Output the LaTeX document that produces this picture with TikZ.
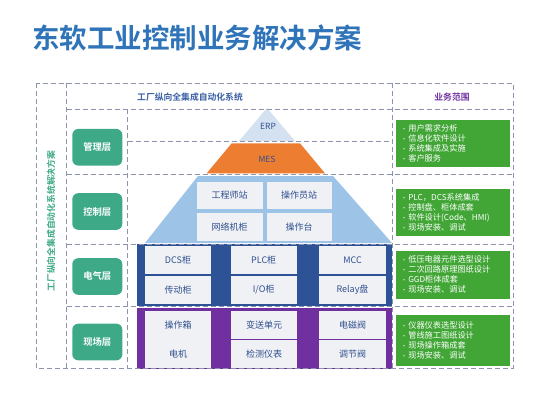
\documentclass[tikz,border=0pt]{standalone}
\usepackage{fontspec}
\setmainfont{Noto Sans CJK SC}[BoldFont={Noto Sans CJK SC Bold}]
\definecolor{titleblue}{HTML}{2F74B8}
\definecolor{headblue}{HTML}{3B5FA5}
\definecolor{bizpurple}{HTML}{7030A0}
\definecolor{dashgray}{HTML}{8D93AD}
\definecolor{layergreen}{HTML}{3DA987}
\definecolor{erpblue}{HTML}{D3E1F0}
\definecolor{mesorange}{HTML}{ED7D31}
\definecolor{ctrlblue}{HTML}{9DC3E6}
\definecolor{cellgray}{HTML}{F0F1F4}
\definecolor{celltext}{HTML}{2F4F8F}
\definecolor{elecblue}{HTML}{2E5296}
\definecolor{fieldpurple}{HTML}{7030A0}
\definecolor{bizgreen}{HTML}{41A636}
\newcommand\myfs[1]{\fontsize{#1}{#1}\selectfont}
\newcommand\blt{\makebox[7.3pt][l]{\fontsize{6pt}{6pt}\selectfont •}}
\begin{document}
\begin{tikzpicture}[x=1pt,y=-1pt,
  dline/.style={draw=dashgray, line width=0.9pt, dash pattern=on 5pt off 3pt},
  cellbox/.style={fill=cellgray, draw=none, text=celltext, font=\myfs{9pt}, inner sep=0, minimum width=66pt},
  celltxt/.style={text=celltext, font=\myfs{9pt}, inner sep=0},
  layerbox/.style={fill=layergreen, rounded corners=6pt, text=white, font=\bfseries\myfs{9.3pt}, minimum width=50pt, minimum height=36.7pt, inner sep=0},
  gbox/.style={fill=bizgreen, text=white, minimum width=114pt, text width=104pt, inner xsep=5pt, inner ysep=0, align=left, font=\fontsize{8.2pt}{10pt}\selectfont},
  pyrtxt/.style={text=celltext, font=\myfs{8.5pt}, inner sep=0}
]
\useasboundingbox (0,0) rectangle (549,412);

% title
\node[anchor=west, inner sep=0, text=titleblue, font=\bfseries\myfs{27.5pt}] (title) at (32,38) {东软工业控制业务解决方案};

% pyramid
\fill[erpblue] (267,108) -- (295,141) -- (239,141) -- cycle;
\fill[mesorange] (231.7,143.3) -- (300,143.3) -- (325,173.3) -- (206.7,173.3) -- cycle;
\fill[ctrlblue] (198,176) -- (333,176) -- (392,243) -- (145,243) -- cycle;

% electric and field frames
\fill[elecblue] (137.3,244) rectangle (391.7,306);
\fill[fieldpurple] (137.3,308.3) rectangle (391.7,369.3);

% control cells
\node[cellbox, minimum height=27.6pt] (c1) at (229.7,195.5) {工程师站};
\node[cellbox, minimum width=65pt, minimum height=27.6pt] (c2) at (299.2,195.5) {操作员站};
\node[cellbox, minimum height=28pt] (c3) at (229.7,226.7) {网络机柜};
\node[cellbox, minimum width=65pt, minimum height=28pt] (c4) at (299.2,226.7) {操作台};

% electric cells
\node[cellbox, minimum height=28.3pt] (e1) at (178,260.2) {DCS柜};
\node[cellbox, minimum height=28.3pt] (e2) at (263.7,260.2) {PLC柜};
\node[cellbox, minimum width=67pt, minimum height=28.3pt] (e3) at (352.5,260.2) {MCC};
\node[cellbox, minimum height=28.3pt] (e4) at (178,289.9) {传动柜};
\node[cellbox, minimum height=28.3pt] (e5) at (263.7,289.9) {I/O柜};
\node[cellbox, minimum width=67pt, minimum height=28.3pt] (e6) at (352.5,289.9) {Relay盘};

% field cells
\node[cellbox, minimum height=57.3pt] (f1) at (178,339.7) {};
\node[celltxt] (f1a) at (178,325) {操作箱};
\node[celltxt] (f1b) at (178,354) {电机};
\node[cellbox, minimum height=28pt] (f2) at (264,325) {变送单元};
\node[cellbox, minimum width=67pt, minimum height=28pt] (f3) at (352.5,325) {电磁阀};
\node[cellbox, minimum height=28.3pt] (f4) at (264,354.2) {检测仪表};
\node[cellbox, minimum width=67pt, minimum height=28.3pt] (f5) at (352.5,354.2) {调节阀};

% pyramid labels
\node[pyrtxt] (erp) at (268,126.5) {ERP};
\node[pyrtxt] (mes) at (267,159) {MES};

% layer labels
\node[layerbox] (l1) at (97.3,147.3) {管理层};
\node[layerbox] (l2) at (97.3,211.5) {控制层};
\node[layerbox] (l3) at (97.3,276.5) {电气层};
\node[layerbox] (l4) at (97.3,342) {现场层};

% business boxes
\node[gbox, minimum height=46.7pt] (g1) at (453,143.3) {\blt 用户需求分析\\\blt 信息化软件设计\\\blt 系统集成及实施\\\blt 客户服务};
\node[gbox, minimum height=46.7pt] (g2) at (453,212.3) {\blt PLC，DCS系统集成\\\blt 控制盘、柜体成套\\\blt 软件设计(Code、HMI)\\\blt 现场安装、调试};
\node[gbox, minimum height=47.7pt] (g3) at (453,274.8) {\blt 低压电器元件选型设计\\\blt 二次回路原理图纸设计\\\blt GGD柜体成套\\\blt 现场安装、调试};
\node[gbox, minimum height=51pt] (g4) at (453,340.5) {\blt 仪器仪表选型设计\\\blt 管线施工图纸设计\\\blt 现场操作箱成套\\\blt 现场安装、调试};

% dashed frame
\draw[dline] (36,83) rectangle (513,368);
\draw[dline] (66.7,83) -- (66.7,368);
\draw[dline] (392.7,83) -- (392.7,368);
\draw[dline] (127.7,109) -- (127.7,368);
\draw[dline] (66.7,109) -- (513,109);
\draw[dline] (127.7,141.7) -- (392.7,141.7);
\draw[dline] (66.7,174.3) -- (513,174.3);
\draw[dline] (66.7,244) -- (513,244);
\draw[dline] (66.7,306.3) -- (513,306.3);

% headers
\node[inner sep=0, text=headblue, font=\bfseries\myfs{8.8pt}] (h1) at (190,97) {工厂纵向全集成自动化系统};
\node[inner sep=0, text=bizpurple, font=\bfseries\myfs{8.8pt}] (h2) at (452,97) {业务范围};
\node[inner sep=0, rotate=90, text=layergreen, font=\bfseries\myfs{8.8pt}] (vt) at (51,221) {工厂纵向全集成自动化系统解决方案};
\end{tikzpicture}
\end{document}
